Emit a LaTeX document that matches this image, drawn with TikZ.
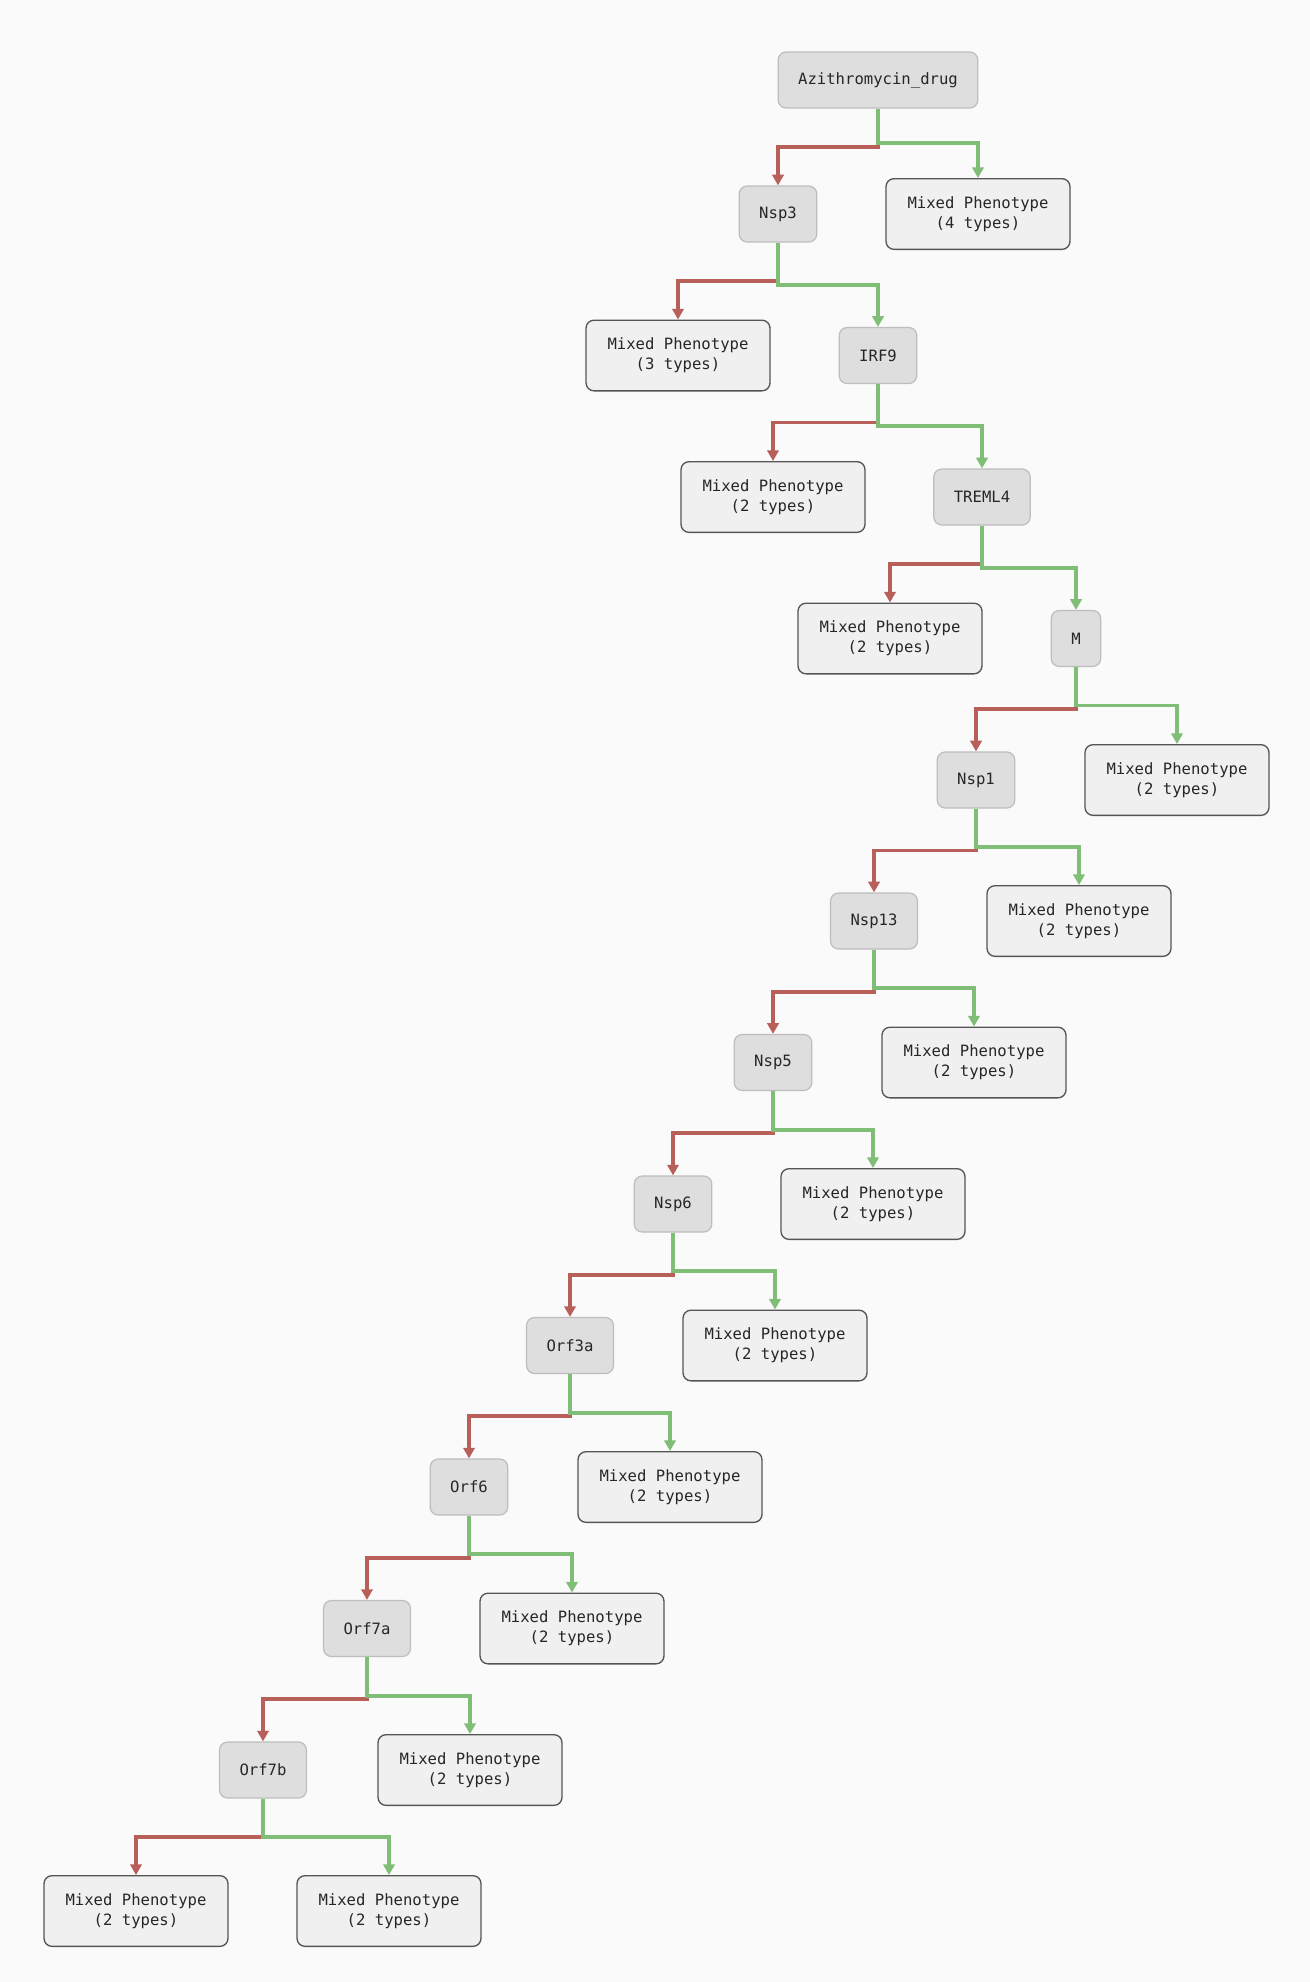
\documentclass[tikz,border=0pt]{standalone}
\usepackage{fontspec}
\setmonofont{DejaVu Sans Mono}
\usetikzlibrary{arrows.meta,calc}
\definecolor{Bg}{HTML}{FAFAFA}
\definecolor{Inner}{HTML}{DEDEDE}
\definecolor{InnerLine}{HTML}{BDBDBD}
\definecolor{Leaf}{HTML}{F0F0F0}
\definecolor{LeafLine}{HTML}{555555}
\definecolor{NoRed}{HTML}{B95F5A}
\definecolor{YesGreen}{HTML}{80BD77}

\begin{document}
\begin{tikzpicture}[x=0.75pt, y=-0.75pt, every node/.style={font=\ttfamily\fontsize{11.7}{15}\selectfont, text=black!85}]
\tikzstyle{gene}=[draw=InnerLine, line width=0.9pt, rounded corners=6pt, fill=Inner, minimum height=42pt, inner xsep=15pt, align=center]
\tikzstyle{leaf}=[draw=LeafLine, line width=1pt, rounded corners=6pt, fill=Leaf, minimum width=138pt, minimum height=53pt, align=center]
\tikzstyle{elbow}=[line width=2.9pt, -{Triangle[width=8.5pt,length=8pt]}, to path={(\tikztostart) |- ($(\tikztostart)!0.5!(\tikztotarget)$) -| (\tikztotarget)}]
\tikzstyle{absent}=[elbow, draw=NoRed]
\tikzstyle{present}=[elbow, draw=YesGreen]
\fill[Bg] (0,0) rectangle (1310,1982);
% genes along the red branch
\node[gene] (azi) at (878,80) {Azithromycin\_drug};
\node[gene] (nsp3) at (778,214) {Nsp3};
\node[gene] (irf9) at (878,355.5) {IRF9};
\node[gene] (treml4) at (982,497) {TREML4};
\node[gene] (m) at (1076,638.5) {M};
\node[gene] (nsp1) at (976,780) {Nsp1};
\node[gene] (nsp13) at (874,921) {Nsp13};
\node[gene] (nsp5) at (773,1062.5) {Nsp5};
\node[gene] (nsp6) at (673,1204) {Nsp6};
\node[gene] (orf3a) at (570,1345.5) {Orf3a};
\node[gene] (orf6) at (469,1487) {Orf6};
\node[gene] (orf7a) at (367,1628.5) {Orf7a};
\node[gene] (orf7b) at (263,1770) {Orf7b};
% leaves
\node[leaf] (azimix) at (978,214) {Mixed Phenotype\\(4 types)};
\node[leaf] (nsp3mix) at (678,355.5) {Mixed Phenotype\\(3 types)};
\node[leaf] (irf9mix) at (773,497) {Mixed Phenotype\\(2 types)};
\node[leaf] (treml4mix) at (890,638.5) {Mixed Phenotype\\(2 types)};
\node[leaf] (mmix) at (1177,780) {Mixed Phenotype\\(2 types)};
\node[leaf] (nsp1mix) at (1079,921) {Mixed Phenotype\\(2 types)};
\node[leaf] (nsp13mix) at (974,1062.5) {Mixed Phenotype\\(2 types)};
\node[leaf] (nsp5mix) at (873,1204) {Mixed Phenotype\\(2 types)};
\node[leaf] (nsp6mix) at (775,1345.5) {Mixed Phenotype\\(2 types)};
\node[leaf] (orf3amix) at (670,1487) {Mixed Phenotype\\(2 types)};
\node[leaf] (orf6mix) at (572,1628.5) {Mixed Phenotype\\(2 types)};
\node[leaf] (orf7amix) at (470,1770) {Mixed Phenotype\\(2 types)};
\node[leaf] (orf7bmixl) at (136,1911) {Mixed Phenotype\\(2 types)};
\node[leaf] (orf7bmixr) at (389,1911) {Mixed Phenotype\\(2 types)};
% edges: red first, green on top
\draw[absent] (azi.south) to (nsp3.north);
\draw[present] (azi.south) to (azimix.north);
\draw[absent] (nsp3.south) to (nsp3mix.north);
\draw[present] (nsp3.south) to (irf9.north);
\draw[absent] (irf9.south) to (irf9mix.north);
\draw[present] (irf9.south) to (treml4.north);
\draw[absent] (treml4.south) to (treml4mix.north);
\draw[present] (treml4.south) to (m.north);
\draw[absent] (m.south) to (nsp1.north);
\draw[present] (m.south) to (mmix.north);
\draw[absent] (nsp1.south) to (nsp13.north);
\draw[present] (nsp1.south) to (nsp1mix.north);
\draw[absent] (nsp13.south) to (nsp5.north);
\draw[present] (nsp13.south) to (nsp13mix.north);
\draw[absent] (nsp5.south) to (nsp6.north);
\draw[present] (nsp5.south) to (nsp5mix.north);
\draw[absent] (nsp6.south) to (orf3a.north);
\draw[present] (nsp6.south) to (nsp6mix.north);
\draw[absent] (orf3a.south) to (orf6.north);
\draw[present] (orf3a.south) to (orf3amix.north);
\draw[absent] (orf6.south) to (orf7a.north);
\draw[present] (orf6.south) to (orf6mix.north);
\draw[absent] (orf7a.south) to (orf7b.north);
\draw[present] (orf7a.south) to (orf7amix.north);
\draw[absent] (orf7b.south) to (orf7bmixl.north);
\draw[present] (orf7b.south) to (orf7bmixr.north);
\end{tikzpicture}
\end{document}
